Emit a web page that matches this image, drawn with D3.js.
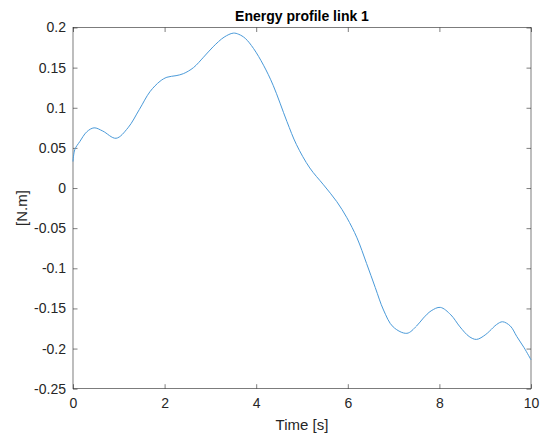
<!DOCTYPE html>
<html>
<head>
<meta charset="utf-8">
<script src="https://cdn.jsdelivr.net/npm/d3@7"></script>
<style>
  html, body { margin: 0; padding: 0; background: #fff; }
  svg { display: block; }
  text { font-family: "Liberation Sans", Arial, Helvetica, sans-serif; }
</style>
</head>
<body>
<svg id="chart" width="547" height="434"></svg>
<script>
const title = "Energy profile link 1";
const xLabel = "Time [s]";
const yLabel = "[N.m]";
const xTicks = [0, 2, 4, 6, 8, 10];
const yTicks = [-0.25, -0.2, -0.15, -0.1, -0.05, 0, 0.05, 0.1, 0.15, 0.2];
const time = [0, 0.04, 0.15, 0.3, 0.46, 0.65, 0.94, 1.2, 1.45, 1.68, 1.9, 2.05, 2.25, 2.41, 2.63, 2.85, 3.06, 3.3, 3.5, 3.62, 3.76, 3.94, 4.16, 4.37, 4.67, 4.88, 5.17, 5.47, 5.76, 5.98, 6.2, 6.41, 6.6, 6.78, 6.99, 7.29, 7.5, 7.65, 7.82, 8.02, 8.25, 8.45, 8.65, 8.81, 9.0, 9.1, 9.25, 9.38, 9.55, 9.69, 9.85, 10];
const energy = [0.033, 0.048, 0.058, 0.070, 0.075, 0.071, 0.062, 0.075, 0.098, 0.120, 0.133, 0.138, 0.140, 0.1425, 0.150, 0.163, 0.176, 0.188, 0.193, 0.1915, 0.1865, 0.174, 0.153, 0.128, 0.083, 0.054, 0.025, 0.004, -0.017, -0.037, -0.062, -0.094, -0.124, -0.152, -0.173, -0.181, -0.172, -0.162, -0.153, -0.1487, -0.158, -0.173, -0.185, -0.1886, -0.183, -0.178, -0.170, -0.1666, -0.172, -0.185, -0.199, -0.214];

(function () {
const svg = d3.select("#chart");
const pLeft = 73, pRight = 531, pTop = 27.5, pBottom = 388.7;
const axisColor = "#262626";

const x = d3.scaleLinear().domain([0, 10]).range([pLeft, pRight]);
const y = d3.scaleLinear().domain([-0.25, 0.2]).range([pBottom, pTop]);

svg.append("rect")
  .attr("x", pLeft).attr("y", pTop)
  .attr("width", pRight - pLeft).attr("height", pBottom - pTop)
  .attr("fill", "none").attr("stroke", axisColor).attr("stroke-width", 0.6);

const fmt = d => String(d);

const xAxis = svg.append("g").attr("transform", `translate(0,${pBottom})`)
  .call(d3.axisBottom(x).tickValues(xTicks).tickSize(-4.5).tickPadding(9).tickFormat(d => d));
const xTop = svg.append("g").attr("transform", `translate(0,${pTop})`)
  .call(d3.axisTop(x).tickValues(xTicks).tickSize(-4.5).tickFormat(""));
const yAxis = svg.append("g").attr("transform", `translate(${pLeft},0)`)
  .call(d3.axisLeft(y).tickValues(yTicks).tickSize(-4.5).tickPadding(7).tickFormat(fmt));
const yRight = svg.append("g").attr("transform", `translate(${pRight},0)`)
  .call(d3.axisRight(y).tickValues(yTicks).tickSize(-4.5).tickFormat(""));

[xAxis, xTop, yAxis, yRight].forEach(g => {
  g.select(".domain").remove();
  g.selectAll("line").attr("stroke", axisColor).attr("stroke-width", 0.6);
  g.selectAll("text").attr("fill", axisColor).style("font-size", "14px")
    .style("font-family", '"Liberation Sans", Arial, sans-serif');
});

const line = d3.line()
  .x((d, i) => x(time[i]))
  .y(d => y(d))
  .curve(d3.curveCatmullRom.alpha(0.5));

svg.append("path")
  .datum(energy)
  .attr("fill", "none")
  .attr("stroke", "#4a9ad9")
  .attr("stroke-width", 1)
  .attr("d", line);

svg.append("text")
  .attr("x", (pLeft + pRight) / 2).attr("y", 21)
  .attr("text-anchor", "middle")
  .style("font-size", "14px").style("font-weight", "bold")
  .attr("fill", "#000")
  .text(title);

svg.append("text")
  .attr("x", (pLeft + pRight) / 2).attr("y", 430)
  .attr("text-anchor", "middle")
  .style("font-size", "15px")
  .attr("fill", axisColor)
  .text(xLabel);

svg.append("text")
  .attr("transform", `translate(27,${(pTop + pBottom) / 2}) rotate(-90)`)
  .attr("text-anchor", "middle")
  .style("font-size", "15px")
  .attr("fill", axisColor)
  .text(yLabel);
})();
</script>
</body>
</html>
